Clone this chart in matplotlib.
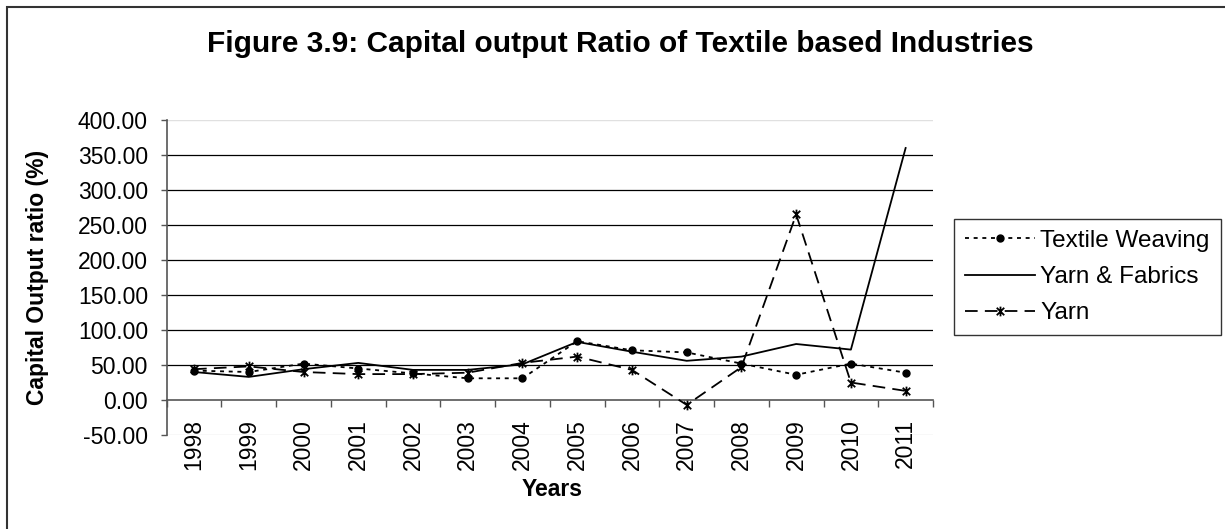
import matplotlib
matplotlib.use("Agg")
import matplotlib.pyplot as plt
from matplotlib.path import Path
from matplotlib.patches import Rectangle
import numpy as np

plt.rcParams['font.family'] = ['Liberation Sans', 'DejaVu Sans']

years = ["1998", "1999", "2000", "2001", "2002", "2003", "2004",
         "2005", "2006", "2007", "2008", "2009", "2010", "2011"]
textile_weaving = [42, 40, 52, 45, 38, 31, 31, 84, 71, 68, 52, 36, 52, 39]
yarn_fabrics = [40, 33, 44, 53, 43, 43, 51, 83, 69, 56, 62, 80, 72, 360]
yarn = [44, 48, 40, 37, 37, 39, 53, 62, 43, -7, 47, 265, 25, 13]

y_ticks = [-50, 0, 50, 100, 150, 200, 250, 300, 350, 400]

# asterisk marker: an "x" crossed by a vertical stroke
asterisk = Path([(-1, -1), (1, 1), (-1, 1), (1, -1), (0, -1.3), (0, 1.3)],
                [Path.MOVETO, Path.LINETO, Path.MOVETO, Path.LINETO,
                 Path.MOVETO, Path.LINETO])

W, H = 1225, 529
fig = plt.figure(figsize=(W / 100, H / 100), dpi=100)
ax = fig.add_axes([166.7 / W, 1 - 435 / H, (933 - 166.7) / W, (435 - 120) / H])

x = np.arange(len(years))

ax.plot(x, textile_weaving, color='black', lw=1.3, linestyle=(0, (2.2, 2.6)),
        marker='o', markersize=5, label='Textile Weaving', zorder=3)
ax.plot(x, yarn_fabrics, color='black', lw=1.3, linestyle='-',
        label='Yarn & Fabrics', zorder=3)
ax.plot(x, yarn, color='black', lw=1.3, linestyle=(0, (7, 4)),
        marker=asterisk, markersize=7, markeredgewidth=1.3,
        label='Yarn', zorder=3)

ax.set_xlim(-0.5, len(years) - 0.5)
ax.set_ylim(-50, 400)

# horizontal gridlines; the outer ones are pale
for v in y_ticks:
    if v in (-50, 400):
        ax.axhline(v, color='#e0e0e0', lw=1.0, zorder=1)
    elif v != 0:
        ax.axhline(v, color='black', lw=0.9, zorder=1)

for s in ['top', 'right']:
    ax.spines[s].set_visible(False)
ax.spines['left'].set_color('#555555')
ax.spines['left'].set_linewidth(1.2)
ax.spines['bottom'].set_position(('data', 0))
ax.spines['bottom'].set_color('#555555')
ax.spines['bottom'].set_linewidth(1.2)

ax.set_yticks(y_ticks)
ax.set_yticklabels([f"{v:.2f}" for v in y_ticks])
ax.tick_params(axis='y', direction='out', length=4.5, width=1, color='#555555',
               pad=9, labelsize=16.5)

ax.set_xticks(x)
ax.set_xticklabels(years, rotation=90)
ax.set_xticks(np.arange(len(years) + 1) - 0.5, minor=True)
ax.tick_params(axis='x', which='major', length=0, pad=13.5, labelsize=16.5)
ax.tick_params(axis='x', which='minor', direction='out', length=5, width=1,
               color='#555555')

ax.set_ylabel('Capital Output ratio (%)', fontsize=16.5, fontweight='bold')
ax.yaxis.set_label_coords(-(166.7 - 49) / (933 - 166.7), 0.5)
fig.text(552 / W, 1 - 489 / H, 'Years', fontsize=16.5, fontweight='bold',
         ha='center', va='center')

fig.text(620 / W, 1 - 44 / H,
         'Figure 3.9: Capital output Ratio of Textile based Industries',
         fontsize=21.5, fontweight='bold', ha='center', va='center')

leg = fig.legend(loc='upper left', bbox_to_anchor=(954 / W, 1 - 219 / H),
                 frameon=True, fancybox=False, shadow=False, fontsize=17.5,
                 handlelength=2.9, handletextpad=0.2, borderpad=0.45,
                 labelspacing=0.58, borderaxespad=0)
leg.get_frame().set_edgecolor('black')
leg.get_frame().set_linewidth(1.0)

# chart border
fig.patches.append(Rectangle((7 / W, -0.1), 1.2, 1 - 7 / H + 0.1,
                             transform=fig.transFigure, fill=False,
                             edgecolor='#333333', lw=1.5))

fig.savefig('out.png', dpi=100)
